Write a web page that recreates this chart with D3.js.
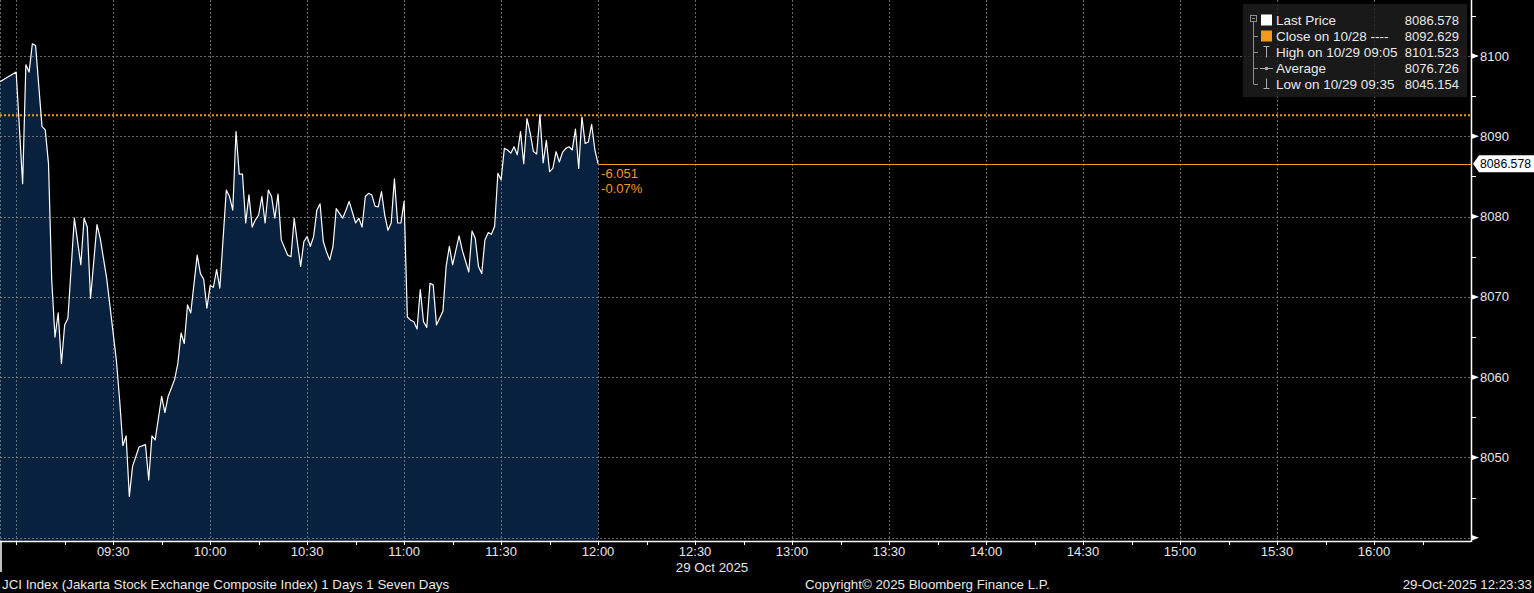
<!DOCTYPE html>
<html><head><meta charset="utf-8">
<script src="https://cdn.jsdelivr.net/npm/d3@7"></script>
<style>html,body{margin:0;padding:0;background:#000;overflow:hidden}</style>
</head><body>
<svg id="chart" width="1534" height="593"></svg>
<script>
// ---------- data ----------
const times = ["08:55","09:00","09:02","09:03","09:04","09:05","09:06","09:08","09:09","09:10",
"09:11","09:12","09:13","09:14","09:15","09:16","09:18","09:20","09:21","09:22",
"09:23","09:25","09:26","09:28","09:31","09:32","09:33","09:34","09:35","09:36",
"09:38","09:40","09:41","09:42","09:43","09:45","09:46","09:47","09:49","09:50",
"09:51","09:52","09:53","09:54","09:56","09:57","09:58","09:59","10:00","10:01",
"10:02","10:03","10:05","10:06","10:07","10:08","10:09","10:10","10:11","10:12",
"10:13","10:14","10:15","10:16","10:17","10:18","10:19","10:20","10:21","10:22",
"10:24","10:25","10:26","10:27","10:28","10:29","10:30","10:31","10:32","10:33",
"10:34","10:35","10:36","10:37","10:38","10:39","10:40","10:41","10:42","10:43",
"10:45","10:46","10:47","10:48","10:49","10:50","10:51","10:52","10:53","10:54",
"10:55","10:56","10:57","10:58","10:59","11:00","11:01","11:02","11:03","11:04",
"11:05","11:06","11:07","11:08","11:09","11:10","11:12","11:13","11:14","11:15",
"11:17","11:18","11:20","11:21","11:22","11:23","11:24","11:25","11:26","11:27",
"11:28","11:29","11:30","11:31","11:32","11:33","11:34","11:35","11:36","11:37",
"11:38","11:39","11:40","11:41","11:42","11:43","11:44","11:45","11:46","11:47",
"11:48","11:49","11:50","11:51","11:52","11:53","11:54","11:55","11:56","11:57",
"11:58","11:59","12:00"];
const prices = [8096.8,8098.0,8084.1,8098.9,8098.0,8101.523,8101.3,8091.2,8090.8,8086.6,
8072.1,8065.0,8068.0,8061.7,8066.5,8067.3,8079.8,8074.0,8079.8,8078.7,
8069.8,8079.0,8077.3,8072.3,8062.1,8057.2,8051.5,8052.7,8045.154,8048.9,
8051.3,8051.6,8047.2,8052.7,8052.2,8057.6,8055.6,8057.6,8059.7,8061.7,
8065.5,8064.2,8069.0,8068.0,8075.2,8072.9,8072.2,8068.6,8071.4,8071.2,
8073.4,8071.1,8083.3,8082.5,8080.8,8090.6,8085.3,8085.3,8079.2,8082.7,
8078.7,8079.6,8080.2,8082.5,8079.2,8083.3,8082.5,8079.8,8082.8,8077.1,
8075.2,8075.0,8079.8,8076.7,8073.8,8076.9,8077.5,8076.3,8077.5,8080.8,
8081.6,8076.9,8075.6,8074.6,8076.3,8081.0,8080.4,8079.8,8080.8,8081.9,
8079.2,8079.8,8078.7,8082.5,8082.9,8082.7,8081.3,8081.2,8083.1,8080.2,
8078.3,8079.2,8084.7,8079.2,8079.2,8081.9,8067.5,8067.1,8066.9,8066.0,
8070.9,8066.9,8066.2,8071.7,8071.5,8066.5,8068.2,8073.8,8076.3,8074.0,
8077.6,8075.8,8073.1,8078.2,8077.3,8073.8,8072.9,8077.1,8078.0,8077.8,
8078.8,8085.4,8084.6,8088.5,8088.3,8087.9,8088.7,8087.7,8090.6,8086.6,
8092.2,8090.4,8088.1,8087.8,8092.7,8086.7,8089.5,8085.6,8086.0,8088.1,
8086.8,8088.0,8088.5,8088.7,8088.3,8090.9,8086.0,8092.4,8089.1,8089.3,
8091.5,8088.3,8086.578];

const yTicks = [8040,8050,8060,8070,8080,8090,8100];
const yTickLabels = ["","8050","8060","8070","8080","8090","8100"];
const yMinorTicks = [8045,8055,8065,8075,8085,8095,8105];
const xGridTimes = ["09:00","09:30","10:00","10:30","11:00","11:30","12:00","12:30","13:00","13:30","14:00","14:30","15:00","15:30","16:00"];
const xTickTimes = ["09:00","09:15","09:30","09:45","10:00","10:15","10:30","10:45","11:00","11:15","11:30","11:45","12:00","12:15","12:30","12:45","13:00","13:15","13:30","13:45","14:00","14:15","14:30","14:45","15:00","15:15","15:30","15:45","16:00","16:15"];
const xLabels = ["09:30","10:00","10:30","11:00","11:30","12:00","12:30","13:00","13:30","14:00","14:30","15:00","15:30","16:00"];
const prevClose = 8092.629;
const lastPrice = 8086.578;
const lastPriceLabel = "8086.578";
const changeLabels = ["-6.051","-0.07%"];
const legendLabels = ["Last Price","Close on 10/28 ----","High on 10/29 09:05","Average","Low on 10/29 09:35"];
const legendValues = ["8086.578","8092.629","8101.523","8076.726","8045.154"];
const dateLabel = "29 Oct 2025";
const footerLeft = "JCI Index (Jakarta Stock Exchange Composite Index) 1 Days 1 Seven Days";
const footerMid = "Copyright\u00A9 2025 Bloomberg Finance L.P.";
const footerRight = "29-Oct-2025 12:23:33";

// ---------- layout ----------
const W = 1534, H = 593;
const plotRight = 1471, plotBottom = 541;
const FONT = "'Liberation Sans', Arial, sans-serif";
const ORANGE = "#f39a1e";
const TXT = "#e8e8e8";

const parse = d3.timeParse("%H:%M");
const x = d3.scaleTime().domain([parse("08:55"), parse("16:30")]).range([0, plotRight]);
const y = d3.scaleLinear().domain([8040, 8100]).range([537.8, 56]);

const data = times.map((t, i) => ({t: parse(t), v: prices[i]}));
const svg = d3.select("#chart");
svg.append("rect").attr("width", W).attr("height", H).attr("fill", "#000");

// area fill
const area = d3.area().x(d => x(d.t)).y0(plotBottom).y1(d => y(d.v));
svg.append("path").datum(data).attr("d", area).attr("fill", "#08213f");

// grid
const grid = svg.append("g").attr("stroke", "#8a8a8a").attr("stroke-opacity", 0.75)
  .attr("stroke-width", 1).attr("stroke-dasharray", "2,2");
grid.selectAll("line.h").data(yTicks).join("line")
  .attr("x1", 0).attr("x2", plotRight)
  .attr("y1", d => Math.round(y(d)) + 0.5).attr("y2", d => Math.round(y(d)) + 0.5);
grid.selectAll("line.v").data(xGridTimes).join("line")
  .attr("x1", d => Math.round(x(parse(d))) + 0.5).attr("x2", d => Math.round(x(parse(d))) + 0.5)
  .attr("y1", 0).attr("y2", plotBottom);
grid.append("line").attr("x1", 0.5).attr("x2", 0.5).attr("y1", 0).attr("y2", plotBottom);

// previous close dotted line
svg.append("line").attr("x1", 0).attr("x2", plotRight)
  .attr("y1", y(prevClose)).attr("y2", y(prevClose))
  .attr("stroke", ORANGE).attr("stroke-width", 2).attr("stroke-dasharray", "2,2");

// last price horizontal line
const lastT = data[data.length - 1].t;
svg.append("line").attr("x1", x(lastT)).attr("x2", plotRight)
  .attr("y1", Math.round(y(lastPrice)) + 0.5).attr("y2", Math.round(y(lastPrice)) + 0.5)
  .attr("stroke", ORANGE).attr("stroke-width", 1);

// price line
const line = d3.line().x(d => x(d.t)).y(d => y(d.v));
svg.append("path").datum(data).attr("d", line).attr("fill", "none")
  .attr("stroke", "#ffffff").attr("stroke-width", 1.2).attr("stroke-linejoin", "round");

// change labels
svg.selectAll("text.chg").data(changeLabels).join("text")
  .attr("x", x(lastT) + 3).attr("y", (d, i) => y(lastPrice) + 14 + i * 15)
  .attr("fill", ORANGE).attr("font-family", FONT).attr("font-size", 13).text(d => d);

// right axis
const ax = svg.append("g");
ax.append("line").attr("x1", plotRight + 0.5).attr("x2", plotRight + 0.5).attr("y1", 0).attr("y2", plotBottom + 1)
  .attr("stroke", "#fff").attr("stroke-width", 1.5);
ax.selectAll("path.tri").data(yTicks).join("path")
  .attr("d", d => { const yy = y(d); return `M${plotRight},${yy-3}L${plotRight+8},${yy}L${plotRight},${yy+3}Z`; })
  .attr("fill", "#fff");
ax.selectAll("line.minor").data(yMinorTicks).join("line")
  .attr("x1", plotRight).attr("x2", plotRight + 5)
  .attr("y1", d => Math.round(y(d)) + 0.5).attr("y2", d => Math.round(y(d)) + 0.5)
  .attr("stroke", "#fff").attr("stroke-width", 1);
ax.selectAll("text.yl").data(yTicks).join("text")
  .attr("x", plotRight + 9).attr("y", d => y(d) + 4.5)
  .attr("fill", TXT).attr("font-family", FONT).attr("font-size", 13)
  .text((d, i) => yTickLabels[i]);

// last price tag
const ly = y(lastPrice);
svg.append("path")
  .attr("d", `M${plotRight+2},${ly}L${plotRight+8},${ly-8.5}L${W},${ly-8.5}L${W},${ly+8.5}L${plotRight+8},${ly+8.5}Z`)
  .attr("fill", "#fff");
svg.append("text").attr("x", plotRight + 9).attr("y", ly + 4.5)
  .attr("fill", "#000").attr("font-family", FONT).attr("font-size", 13)
  .attr("textLength", 51).attr("lengthAdjust", "spacingAndGlyphs").text(lastPriceLabel);

// bottom axis
const bx = svg.append("g");
bx.append("line").attr("x1", 0).attr("x2", plotRight).attr("y1", plotBottom + 0.5).attr("y2", plotBottom + 0.5)
  .attr("stroke", "#fff").attr("stroke-width", 1.5);
bx.selectAll("line.t").data(xTickTimes).join("line")
  .attr("x1", d => Math.round(x(parse(d))) + 0.5).attr("x2", d => Math.round(x(parse(d))) + 0.5)
  .attr("y1", plotBottom).attr("y2", plotBottom + 4)
  .attr("stroke", "#fff").attr("stroke-width", 1);
bx.selectAll("text.xl").data(xLabels).join("text")
  .attr("x", d => x(parse(d))).attr("y", 556)
  .attr("text-anchor", "middle").attr("fill", TXT).attr("font-family", FONT).attr("font-size", 13)
  .text(d => d);
bx.append("line").attr("x1", 1).attr("x2", 1).attr("y1", plotBottom).attr("y2", 572)
  .attr("stroke", "#fff").attr("stroke-width", 1.5);
bx.append("text").attr("x", 712).attr("y", 572).attr("text-anchor", "middle")
  .attr("fill", TXT).attr("font-family", FONT).attr("font-size", 13.3).text(dateLabel);

// footer
const ft = svg.append("g").attr("fill", TXT).attr("font-family", FONT).attr("font-size", 13.3);
ft.append("text").attr("x", 2).attr("y", 589).text(footerLeft);
ft.append("text").attr("x", 805).attr("y", 589).text(footerMid);
ft.append("text").attr("x", 1532).attr("y", 589).attr("text-anchor", "end").text(footerRight);

// legend
const lg = svg.append("g");
lg.append("rect").attr("x", 1243).attr("y", 4).attr("width", 224).attr("height", 93)
  .attr("fill", "#1e1e1e").attr("fill-opacity", 0.82);
const rowY = [20, 36, 52, 68, 84];
const treeCol = "#8c8c8c";
lg.append("rect").attr("x", 1250.5).attr("y", 15.5).attr("width", 6).attr("height", 6)
  .attr("fill", "none").attr("stroke", treeCol);
lg.append("line").attr("x1", 1252).attr("x2", 1255).attr("y1", 18.5).attr("y2", 18.5).attr("stroke", treeCol);
lg.append("line").attr("x1", 1253.5).attr("x2", 1253.5).attr("y1", 22).attr("y2", rowY[4]).attr("stroke", treeCol);
lg.selectAll("line.br").data(rowY.slice(1)).join("line")
  .attr("x1", 1253.5).attr("x2", 1258).attr("y1", d => d + 0.5).attr("y2", d => d + 0.5).attr("stroke", treeCol);
lg.append("rect").attr("x", 1261).attr("y", rowY[0] - 5.5).attr("width", 11).attr("height", 11).attr("fill", "#fff");
lg.append("rect").attr("x", 1261).attr("y", rowY[1] - 5.5).attr("width", 11).attr("height", 11).attr("fill", ORANGE);
// high icon
lg.append("path").attr("d", `M1263.5,${rowY[2]-5.5}H1269.5M1266.5,${rowY[2]-5.5}V${rowY[2]+5.5}`)
  .attr("stroke", "#aaa").attr("fill", "none");
// average icon
lg.append("line").attr("x1", 1260).attr("x2", 1273).attr("y1", rowY[3] + 0.5).attr("y2", rowY[3] + 0.5).attr("stroke", "#aaa");
lg.append("circle").attr("cx", 1266.5).attr("cy", rowY[3] + 0.5).attr("r", 1.8).attr("fill", "#aaa");
// low icon
lg.append("path").attr("d", `M1266.5,${rowY[4]-5.5}V${rowY[4]+4.5}M1263.5,${rowY[4]+4.5}H1269.5`)
  .attr("stroke", "#aaa").attr("fill", "none");
lg.selectAll("text.ll").data(legendLabels).join("text")
  .attr("x", 1276).attr("y", (d, i) => rowY[i] + 4.5)
  .attr("fill", TXT).attr("font-family", FONT).attr("font-size", 13.5).text(d => d);
lg.selectAll("text.lv").data(legendValues).join("text")
  .attr("x", 1459).attr("y", (d, i) => rowY[i] + 4.5).attr("text-anchor", "end")
  .attr("fill", TXT).attr("font-family", FONT).attr("font-size", 13).text(d => d);
</script>
</body></html>
